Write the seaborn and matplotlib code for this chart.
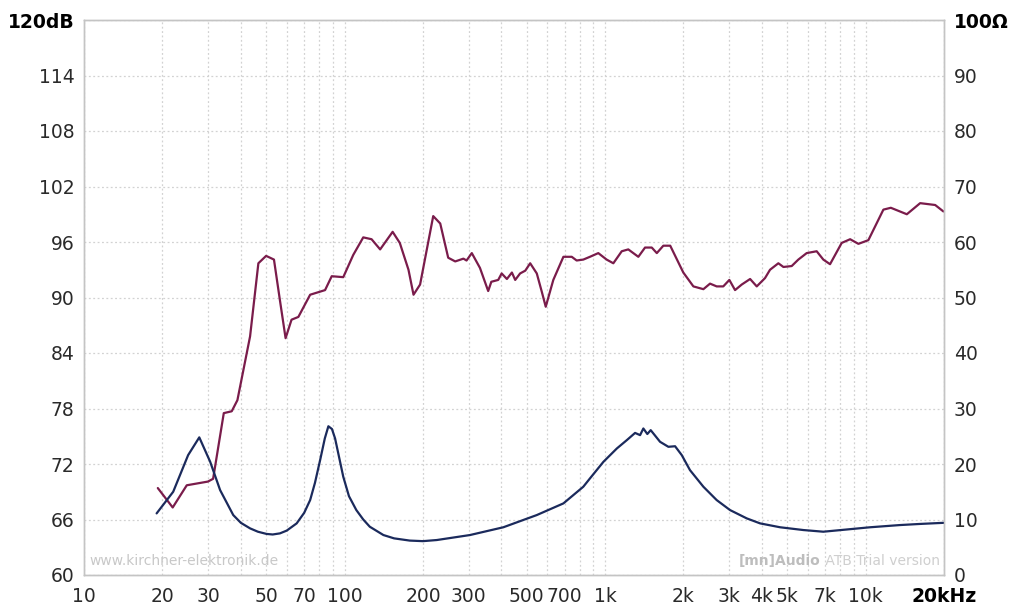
import matplotlib
matplotlib.use("Agg")

import matplotlib.pyplot as plt
import matplotlib.ticker as mticker
import pandas as pd
import seaborn as sns

# frequency response (dB)
spl_freq = [19.2, 21.9, 24.8, 29.9, 31.3, 34.4, 36.9, 38.8, 43.4, 46.7, 50.0, 53.6,
            56.5, 59.4, 62.6, 66.5, 73.8, 84.2, 89.3, 98.9, 108, 118, 127, 137, 153,
            163, 176, 184, 195, 219, 233, 250, 266, 286, 294, 308, 331, 356, 366, 389,
            401, 420, 439, 452, 472, 494, 516, 547, 572, 592, 633, 692, 745, 778, 825,
            875, 942, 1014, 1076, 1159, 1228, 1342, 1424, 1511, 1580, 1674, 1779, 1997,
            2183, 2385, 2529, 2682, 2843, 3000, 3155, 3347, 3604, 3822, 4112, 4298,
            4626, 4838, 5205, 5520, 5942, 6491, 6883, 7305, 8098, 8725, 9387, 10250,
            11705, 12500, 14400, 16200, 18500, 19900]
spl_db = [69.4, 67.3, 69.7, 70.1, 70.4, 77.5, 77.7, 78.9, 85.8, 93.7, 94.5, 94.1,
          89.7, 85.6, 87.6, 87.9, 90.3, 90.8, 92.3, 92.2, 94.6, 96.5, 96.3, 95.2, 97.1,
          95.9, 93.0, 90.3, 91.4, 98.8, 98.0, 94.3, 93.9, 94.2, 94.0, 94.8, 93.2, 90.7,
          91.7, 91.9, 92.6, 92.0, 92.7, 91.9, 92.6, 92.9, 93.7, 92.6, 90.6, 89.0, 91.9,
          94.4, 94.4, 94.0, 94.1, 94.4, 94.8, 94.1, 93.7, 95.0, 95.2, 94.4, 95.4, 95.4,
          94.8, 95.6, 95.6, 92.7, 91.2, 90.9, 91.5, 91.2, 91.2, 91.9, 90.8, 91.4, 92.0,
          91.2, 92.1, 93.0, 93.7, 93.3, 93.4, 94.1, 94.8, 95.0, 94.1, 93.6, 95.9, 96.3,
          95.8, 96.2, 99.5, 99.7, 99.0, 100.2, 100.0, 99.3]

# impedance (ohm)
imp_freq = [19.0, 22.0, 25.1, 27.7, 30.5, 33.3, 37.4, 40.0, 43.4, 46.5, 50.2, 53.0,
            56.5, 60.0, 65.5, 70.0, 73.8, 77.0, 80.6, 84.0, 86.7, 89.5, 92.0, 98.9,
            104, 111, 118, 125, 141, 155, 178, 200, 226, 303, 407, 547, 692, 825,
            875, 986, 1110, 1212, 1304, 1363, 1403, 1453, 1497, 1626, 1750, 1857, 1970,
            2118, 2385, 2682, 3018, 3499, 3937, 4698, 5771, 6883, 8469, 10400, 13560,
            16180, 19900]
imp_ohm = [11.1, 15.0, 21.6, 24.8, 20.4, 15.3, 10.8, 9.4, 8.4, 7.8, 7.4, 7.3,
           7.5, 8.0, 9.3, 11.2, 13.5, 16.6, 20.7, 24.6, 26.8, 26.3, 24.6, 17.7,
           14.2, 11.7, 10.0, 8.7, 7.2, 6.6, 6.2, 6.1, 6.3, 7.2, 8.6, 10.8, 12.9, 15.9,
           17.4, 20.4, 22.8, 24.3, 25.6, 25.2, 26.4, 25.4, 26.1, 24.0, 23.1, 23.2, 21.6,
           18.9, 15.9, 13.5, 11.7, 10.2, 9.3, 8.6, 8.1, 7.8, 8.2, 8.6, 9.0,
           9.2, 9.4]

x_ticks = [10, 20, 30, 50, 70, 100, 200, 300, 500, 700, 1000, 2000, 3000, 4000,
           5000, 7000, 10000, 20000]
x_labels = ["10", "20", "30", "50", "70", "100", "200", "300", "500", "700", "1k",
            "2k", "3k", "4k", "5k", "7k", "10k", "20kHz"]
db_ticks = list(range(60, 121, 6))
db_labels = [str(v) for v in db_ticks[:-1]] + ["120dB"]
ohm_ticks = list(range(0, 101, 10))
ohm_labels = [str(v) for v in ohm_ticks[:-1]] + ["100Ω"]

sns.set_theme(style="white")
plt.rcParams["font.family"] = ["DejaVu Sans"]

spl = pd.DataFrame({"freq": spl_freq, "db": spl_db})
imp = pd.DataFrame({"freq": imp_freq, "ohm": imp_ohm})

fig = plt.figure(figsize=(10.09, 6.10), dpi=100)
ax = fig.add_axes([84 / 1009, 35 / 610, 860 / 1009, 555 / 610])
ax.set_xscale("log")

sns.lineplot(data=spl, x="freq", y="db", ax=ax, color="#7a1c4b", lw=1.6,
             estimator=None, sort=False)
ax.set_xlim(10, 20000)
ax.set_ylim(60, 120)

grid_kw = dict(color="#d2d2d2", ls=(0, (1.5, 2)), lw=0.9)
ax.xaxis.set_major_locator(mticker.FixedLocator(x_ticks))
ax.xaxis.set_minor_locator(mticker.LogLocator(base=10, subs=range(2, 10), numticks=20))
ax.xaxis.set_minor_formatter(mticker.NullFormatter())
ax.set_xticklabels(x_labels)
ax.set_yticks(db_ticks)
ax.set_yticklabels(db_labels)
ax.grid(which="both", axis="x", **grid_kw)
ax.grid(which="major", axis="y", **grid_kw)
ax.tick_params(axis="both", which="both", length=0, labelsize=13.5, colors="#2a2a2a")
ax.tick_params(axis="x", pad=9)
ax.tick_params(axis="y", pad=7)
ax.set_xlabel("")
ax.set_ylabel("")

ax2 = ax.twinx()
sns.lineplot(data=imp, x="freq", y="ohm", ax=ax2, color="#1b2a5c", lw=1.6,
             estimator=None, sort=False)
ax2.set_ylim(0, 100)
ax2.set_yticks(ohm_ticks)
ax2.set_yticklabels(ohm_labels)
ax2.tick_params(axis="y", length=0, labelsize=13.5, colors="#2a2a2a", pad=7)
ax2.set_xlabel("")
ax2.set_ylabel("")

for label in (ax.get_xticklabels()[-1], ax.get_yticklabels()[-1], ax2.get_yticklabels()[-1]):
    label.set_fontweight("bold")
    label.set_color("black")

for a in (ax, ax2):
    for spine in a.spines.values():
        spine.set_color("#c4c4c4")
        spine.set_linewidth(1.0)

ax.text(0.006, 0.012, "www.kirchner-elektronik.de", transform=ax.transAxes,
        fontsize=10, color="#c8c8c8", ha="left", va="bottom")
trial = ax.text(0.995, 0.012, " ATB Trial version", transform=ax.transAxes,
                fontsize=10, color="#cfcfcf", ha="right", va="bottom")
ax.annotate("[mn]Audio", xy=(0, 0), xycoords=trial, fontsize=10, color="#bdbdbd",
            fontweight="bold", ha="right", va="bottom")

fig.savefig("out.png", dpi=100)
